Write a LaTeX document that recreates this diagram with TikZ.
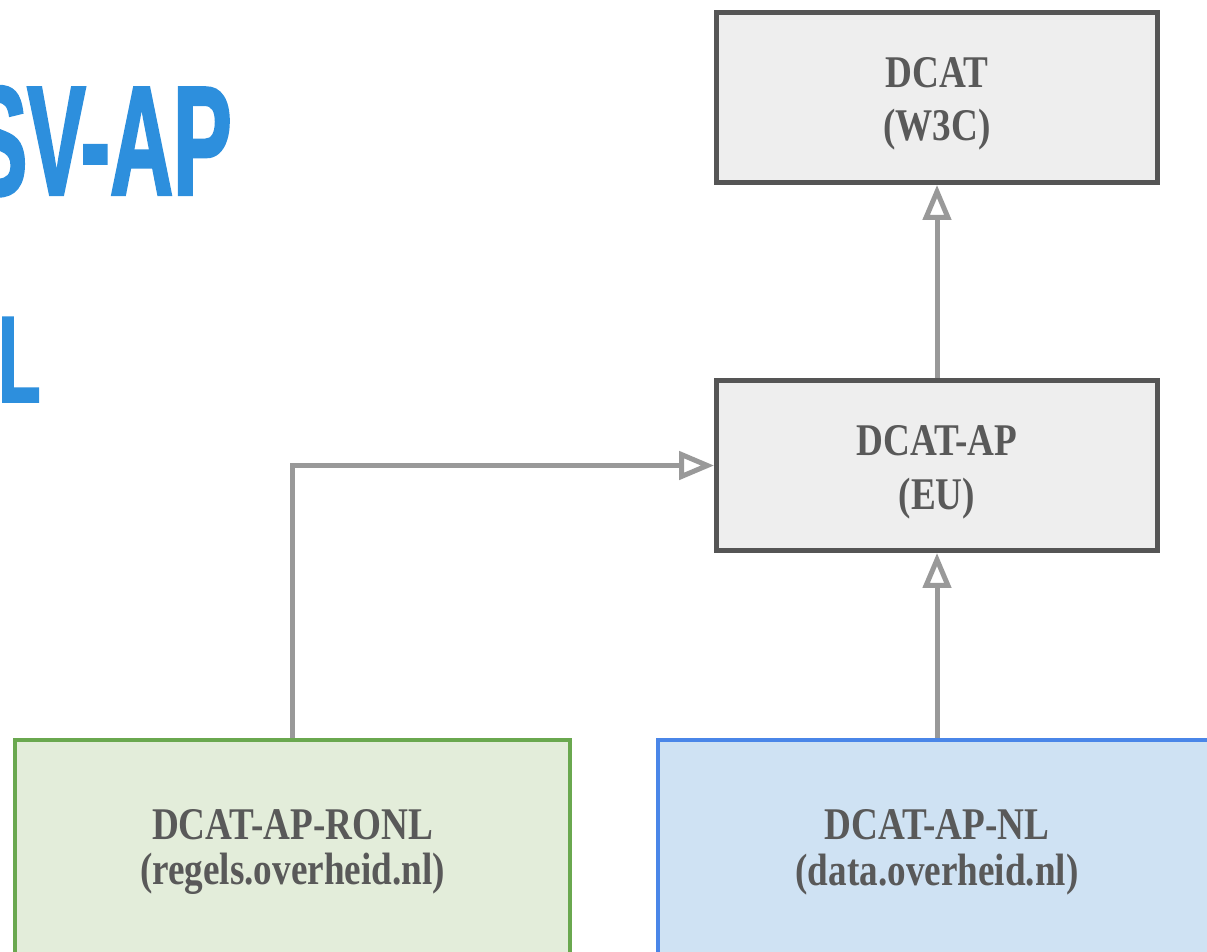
\documentclass[tikz,border=0pt]{standalone}
\usepackage{fontspec}
\usetikzlibrary{arrows.meta}
\newfontfamily\titlefont[FakeStretch=0.56,BoldFeatures={FakeBold=1.5}]{Liberation Sans}
\newfontfamily\boxfont[FakeStretch=0.82]{Liberation Serif}
\definecolor{titleblue}{HTML}{2D8FDD}
\definecolor{boxtext}{HTML}{595959}
\definecolor{boxline}{HTML}{555555}
\definecolor{boxfill}{HTML}{EEEEEE}
\definecolor{greenline}{HTML}{6AA84F}
\definecolor{greenfill}{HTML}{E3EDDA}
\definecolor{blueline}{HTML}{4A86E8}
\definecolor{bluefill}{HTML}{CFE2F3}
\definecolor{arrowgray}{HTML}{999999}
\begin{document}
\begin{tikzpicture}[x=0.02cm, y=-0.02cm,
  box/.style={draw=boxline, fill=boxfill, line width=0.1cm, minimum width=8.82cm, minimum height=3.4cm, inner sep=0, align=center, text=boxtext, font=\boxfont\bfseries\fontsize{25.8}{30.5}\selectfont},
  nlbox/.style={box, line width=0.08cm, minimum height=4.48cm, font=\boxfont\bfseries\fontsize{25.8}{26}\selectfont},
  arr/.style={draw=arrowgray, line width=0.1cm, -{Triangle[open, length=0.7cm, width=0.56cm]}}]
\useasboundingbox (0,0) rectangle (1207,951);
\clip (0,0) rectangle (1207,951);
% title, cut off at the left
\node[anchor=base east, inner sep=0, text=titleblue, font=\titlefont\bfseries\fontsize{89}{89}\selectfont] (svap) at (232,195) {SV-AP};
\node[anchor=base west, inner sep=0, text=titleblue, font=\titlefont\bfseries\fontsize{70}{70}\selectfont] (ell) at (-2,402) {L};
% boxes
\node[box] (dcat) at (937,97.5) {\\[-6pt]DCAT\\(W3C)};
\node[box] (dcatap) at (937,465.5) {\\[-6pt]DCAT-AP\\(EU)};
\node[nlbox, draw=greenline, fill=greenfill, minimum width=11.1cm] (ronl) at (292.5,852) {DCAT-AP-RONL\\(regels.overheid.nl)};
\node[nlbox, draw=blueline, fill=bluefill, minimum width=11.16cm] (apnl) at (937,852) {DCAT-AP-NL\\(data.overheid.nl)};
% connectors
\draw[arr] (dcatap) -- (dcat);
\draw[arr] (apnl) -- (dcatap);
\draw[arr] (ronl.north) |- (dcatap.west);
\end{tikzpicture}
\end{document}
